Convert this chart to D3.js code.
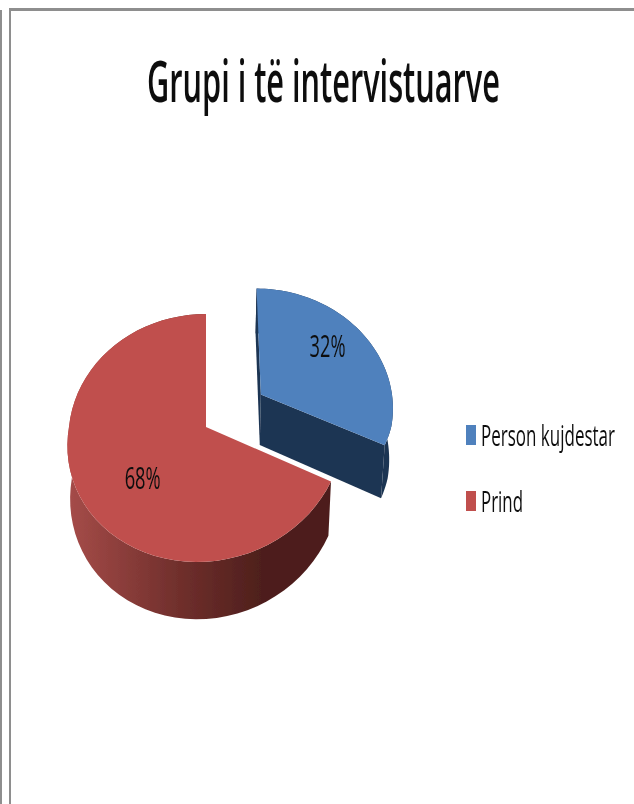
<!DOCTYPE html>
<html>
<head>
<meta charset="utf-8">
<script src="https://cdnjs.cloudflare.com/ajax/libs/d3/7.8.5/d3.min.js"></script>
<style>
  html, body { margin: 0; padding: 0; background: #fff; }
  svg { display: block; }
  text { font-family: 'Open Sans', 'Noto Sans', sans-serif; fill: #111; }
</style>
</head>
<body>
<div id="container"></div>
<script>
const categories = ['Person kujdestar', 'Prind'];
const values = [32, 68];
const topColors = ['#4f81bd', '#c0504d'];
const title = 'Grupi i të intervistuarve';

const w = 634,
  h = 804;

// projection of the tilted disc, fitted by eye to the picture
const cx = 206,
  cy = 427,
  rx = 137,
  ry = 123,
  persp = 0.0887,
  shear = 9,
  explodeOff = [0.41, -0.27],
  blueRadius = 0.98;

const svg = d3.select('#container').append('svg').attr('width', w).attr('height', h);

const defs = svg.append('defs');
defs
  .append('filter')
  .attr('id', 'soft')
  .append('feGaussianBlur')
  .attr('stdDeviation', 0.5);

const wallGrad = defs
  .append('linearGradient')
  .attr('id', 'redWall')
  .attr('gradientUnits', 'userSpaceOnUse')
  .attr('x1', 67)
  .attr('x2', 262)
  .attr('y1', 0)
  .attr('y2', 0);
wallGrad.append('stop').attr('offset', '0%').attr('stop-color', '#a64c49');
wallGrad.append('stop').attr('offset', '55%').attr('stop-color', '#72302d');
wallGrad.append('stop').attr('offset', '100%').attr('stop-color', '#4e1f1c');

// page frame
const frame = svg.append('g').attr('fill', '#8e8e8e');
frame.append('rect').attr('x', 0).attr('y', 10).attr('width', 2).attr('height', h);
frame.append('rect').attr('x', 9).attr('y', 8).attr('width', 2).attr('height', h);
frame.append('rect').attr('x', 9).attr('y', 8).attr('width', w).attr('height', 3);

function project(u, v, low) {
  const k = 1 / (1 - persp * v);
  const s = low ? 0.98 : 1;
  const depth = low ? 52 + 8 * v : 0;
  const lean = v > 0 ? shear * v : 0;
  return [cx + rx * u * k * s - lean, cy + ry * v * k * s + depth];
}

function rim(start, end, off, r, low) {
  const n = 60;
  return d3.range(n + 1).map((i) => {
    const a = start + ((end - start) * i) / n;
    return project(off[0] + r * Math.sin(a), off[1] - r * Math.cos(a), low);
  });
}

// squeeze a text to the width it has in the picture
function fitText(sel, x, y, width) {
  const k = width / sel.node().getComputedTextLength();
  sel.attr('transform', 'translate(' + x + ', ' + y + ') scale(' + k + ', 1)');
}

const line = d3.line();
const slices = d3.pie().sort(null)(values);
const chart = svg.append('g').attr('filter', 'url(#soft)');

// red slice: only the outer wall shows, blue also shows its cut faces
slices
  .slice()
  .reverse()
  .forEach((d) => {
    const i = d.index;
    const off = i === 0 ? explodeOff : [0, 0];
    const r = i === 0 ? blueRadius : 1;
    const top = rim(d.startAngle, d.endAngle, off, r, false);
    const low = rim(d.startAngle, d.endAngle, off, r, true);
    const apex = project(off[0], off[1], false);
    const apexLow = project(off[0], off[1], true);
    const dark = '#1f3552';

    chart
      .append('path')
      .attr('d', line(top.concat(low.slice().reverse())) + 'Z')
      .attr('fill', i === 0 ? dark : 'url(#redWall)');

    if (i === 0) {
      [0, top.length - 1].forEach((e) => {
        chart
          .append('path')
          .attr('d', line([apex, top[e], low[e], apexLow]) + 'Z')
          .attr('fill', dark);
      });
    }

    chart
      .append('path')
      .attr('d', line([apex].concat(top)) + 'Z')
      .attr('fill', topColors[i]);
  });

const texts = svg.append('g').attr('filter', 'url(#soft)');

// percent labels
const labelRadius = [0.65, 0.6];
const labelNudge = [
  [-3, -10],
  [11, 9],
];
slices.forEach((d) => {
  const i = d.index;
  const mid = (d.startAngle + d.endAngle) / 2;
  const off = i === 0 ? explodeOff : [0, 0];
  const p = project(
    off[0] + labelRadius[i] * Math.sin(mid),
    off[1] - labelRadius[i] * Math.cos(mid),
    false
  );
  const label = texts
    .append('text')
    .text(values[i] + '%')
    .attr('font-size', 31);
  fitText(label, p[0] + labelNudge[i][0] - 18, p[1] + labelNudge[i][1] + 12, 36);
});

// legend
const legendY = d3.scalePoint().domain(categories).range([446, 512]);
const legendWidth = d3.scaleOrdinal().domain(categories).range([134, 42]);
texts
  .selectAll('rect')
  .data(categories)
  .enter()
  .append('rect')
  .attr('x', 466)
  .attr('y', (d) => legendY(d) - 21)
  .attr('width', 10)
  .attr('height', 20)
  .attr('fill', (d, i) => topColors[i]);
categories.forEach((d) => {
  const item = texts.append('text').text(d).attr('font-size', 30);
  fitText(item, 481, legendY(d), legendWidth(d));
});

const heading = texts
  .append('text')
  .text(title)
  .attr('font-size', 58)
  .attr('font-weight', 600)
  .attr('fill', '#000');
fitText(heading, 147, 102, 353);
</script>
</body>
</html>
